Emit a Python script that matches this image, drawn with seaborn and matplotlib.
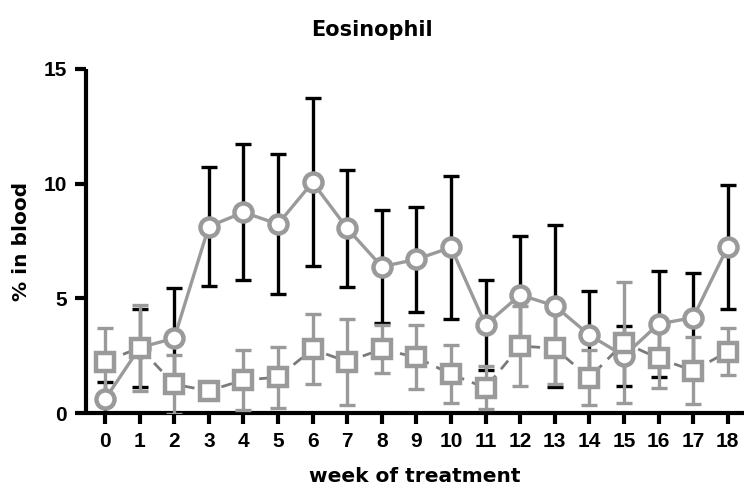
import matplotlib
matplotlib.use("Agg")
import matplotlib.pyplot as plt
import seaborn as sns
import pandas as pd
import numpy as np

weeks = list(range(19))
treated_mean = [0.6, 2.85, 3.26, 8.13, 8.75, 8.24, 10.06, 8.05, 6.38, 6.70, 7.22, 3.84,
                5.15, 4.67, 3.40, 2.49, 3.88, 4.16, 7.25]
treated_sd = [0.75, 1.70, 2.18, 2.60, 2.96, 3.04, 3.67, 2.55, 2.47, 2.29, 3.12, 1.97,
              2.58, 3.52, 1.90, 1.30, 2.29, 1.93, 2.70]
control_mean = [2.24, 2.85, 1.25, 0.97, 1.44, 1.56, 2.78, 2.24, 2.78, 2.43, 1.69, 1.10,
                2.92, 2.82, 1.54, 3.07, 2.38, 1.85, 2.67]
control_sd = [1.45, 1.88, 1.30, 0.25, 1.30, 1.32, 1.52, 1.88, 1.05, 1.40, 1.27, 0.93,
              1.73, 1.57, 1.20, 2.64, 1.28, 1.45, 1.02]
y_ticks = [0, 5, 10, 15]

df = pd.DataFrame({"week": weeks * 2,
                   "value": treated_mean + control_mean,
                   "group": ["treated"] * 19 + ["control"] * 19})

sns.set_style("ticks")
plt.rcParams["font.family"] = ["Liberation Sans", "DejaVu Sans"]
plt.rcParams["text.color"] = "black"
plt.rcParams["axes.labelcolor"] = "black"
plt.rcParams["xtick.color"] = "black"
plt.rcParams["ytick.color"] = "black"

fig = plt.figure(figsize=(7.44, 4.96), dpi=100)
ax = fig.add_axes([0.1156, 0.1673, 0.8844, 0.6937])

gray = "#9a9a9a"
# error bars
ax.errorbar(weeks, treated_mean, yerr=treated_sd, fmt="none", ecolor="black",
            elinewidth=2.4, capsize=6, capthick=2.4, zorder=2)
ax.errorbar(weeks, control_mean, yerr=control_sd, fmt="none", ecolor=gray,
            elinewidth=2.4, capsize=6, capthick=2.4, zorder=3)

sns.lineplot(data=df[df.group == "treated"], x="week", y="value", ax=ax,
             color=gray, lw=2.4, marker="o", markersize=13, markerfacecolor="white",
             markeredgecolor=gray, markeredgewidth=3.2, zorder=4, legend=False)
sns.lineplot(data=df[df.group == "control"], x="week", y="value", ax=ax,
             color="#7a7a7a", lw=2.0, linestyle=(0, (4, 3)), marker="s", markersize=13,
             markerfacecolor="white", markeredgecolor=gray, markeredgewidth=3.2,
             zorder=5, legend=False)

ax.set_xlim(-0.55, 18.47)
ax.set_ylim(0, 15)
ax.set_xticks(weeks)
ax.set_xticklabels([str(w) for w in weeks])
ax.set_yticks(y_ticks)
ax.set_yticklabels([str(t) for t in y_ticks])

for s in ["top", "right"]:
    ax.spines[s].set_visible(False)
for s in ["left", "bottom"]:
    ax.spines[s].set_linewidth(3)
    ax.spines[s].set_color("black")
    ax.spines[s].set_capstyle("butt")
ax.tick_params(axis="both", length=8, width=3, color="black", labelcolor="black",
               labelsize=15, pad=6)
for lbl in ax.get_xticklabels() + ax.get_yticklabels():
    lbl.set_fontweight("bold")

ax.set_xlabel("week of treatment", fontsize=14.5, fontweight="bold", labelpad=11,
              family=["DejaVu Sans"], color="black")
ax.set_ylabel("% in blood", fontsize=14.5, fontweight="bold", labelpad=9,
              family=["DejaVu Sans"], color="black")
fig.text(0.5, 0.94, "Eosinophil", fontsize=15, fontweight="bold",
         family=["DejaVu Sans"], ha="center", va="center", color="black")

fig.savefig("out.png", dpi=100)
